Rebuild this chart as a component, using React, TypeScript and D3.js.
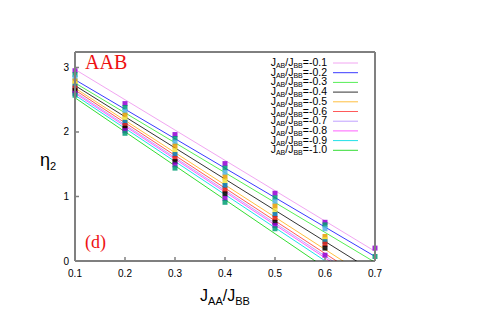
import React from 'react';
import * as d3 from 'd3';

// J_AB/J_BB values (legend order)
const ratios = ['-0.1', '-0.2', '-0.3', '-0.4', '-0.5', '-0.6', '-0.7', '-0.8', '-0.9', '-1.0'];
const xValues = [0.1, 0.2, 0.3, 0.4, 0.5, 0.6, 0.7];

// measured eta_2 points, one array per ratio (null = below range)
const pts1 = [2.95, 2.44, 1.96, 1.51, 1.05, 0.6, 0.2];
const pts2 = [2.89, 2.38, 1.9, 1.44, 0.98, 0.56, 0.07];
const pts3 = [2.84, 2.32, 1.84, 1.37, 0.92, 0.5, null];
const pts4 = [2.79, 2.26, 1.78, 1.3, 0.85, 0.38, null];
const pts5 = [2.75, 2.2, 1.71, 1.24, 0.78, 0.33, null];
const pts6 = [2.71, 2.15, 1.65, 1.17, 0.72, 0.3, null];
const pts7 = [2.68, 2.1, 1.59, 1.1, 0.66, 0.26, null];
const pts8 = [2.64, 2.06, 1.54, 1.04, 0.6, 0.2, null];
const pts9 = [2.6, 2.02, 1.49, 0.97, 0.55, 0.09, null];
const pts10 = [2.57, 1.98, 1.44, 0.91, 0.5, null, null];
const points = [pts1, pts2, pts3, pts4, pts5, pts6, pts7, pts8, pts9, pts10];

// linear fit lines: value at x=0.1 and at x=0.7
const fitStart = [2.97, 2.81, 2.76, 2.72, 2.68, 2.65, 2.62, 2.6, 2.57, 2.53];
const fitEnd = [0.15, 0.07, -0.02, -0.18, -0.32, -0.39, -0.43, -0.46, -0.51, -0.63];

const lineColors = ['#f2a6f2', '#3a3aff', '#55ee55', '#333333', '#ffbf40', '#ff5a5a', '#c0a0ff', '#ff60ff', '#20e0e8', '#33dd33'];
const pointColors = ['#9400d3', '#009e73', '#56b4e9', '#e69f00', '#f0e442', '#0072b2', '#e51e10', '#000000', '#9400d3', '#009e73'];

const xTicks = [0.1, 0.2, 0.3, 0.4, 0.5, 0.6, 0.7];
const yTicks = [0, 1, 2, 3];

const sans = 'Liberation Sans, Arial, sans-serif';
const serif = 'Liberation Serif, Times New Roman, serif';

export default function App() {
  const left = 75, right = 375, top = 52, bottom = 261;
  const x = d3.scaleLinear().domain([0.1, 0.7]).range([left, right]);
  const y = d3.scaleLinear().domain([0, 3.24]).range([bottom, top]);
  const line = d3.line<[number, number]>().x((d) => x(d[0])).y((d) => y(d[1]));

  return (
    <svg width={500} height={314} style={{ position: 'absolute', left: 0, top: 0 }}>
      <defs>
        <clipPath id="plot">
          <rect x={left} y={top} width={right - left} height={bottom - top} />
        </clipPath>
      </defs>

      {/* fit lines */}
      <g clipPath="url(#plot)">
        {ratios.map((r, i) => (
          <path
            key={r}
            d={line([[0.1, fitStart[i]], [0.7, fitEnd[i]]]) || ''}
            stroke={lineColors[i]}
            strokeWidth={1}
            fill="none"
          />
        ))}
      </g>

      {/* data points */}
      <g>
        {points.map((arr, i) =>
          arr.map((v, j) =>
            v == null ? null : (
              <rect
                key={`${i}-${j}`}
                x={x(xValues[j]) - 2.5}
                y={y(v) - 2.5}
                width={5}
                height={5}
                fill={pointColors[i]}
                opacity={0.85}
              />
            )
          )
        )}
      </g>

      {/* frame */}
      <line x1={left} x2={right} y1={top} y2={top} stroke="#000" strokeWidth={1} />
      <line x1={left} x2={right} y1={bottom} y2={bottom} stroke="#000" strokeWidth={1.2} />
      <line x1={left} x2={left} y1={top} y2={bottom} stroke="#808080" strokeWidth={2} />
      <line x1={right} x2={right} y1={top} y2={bottom} stroke="#808080" strokeWidth={2} />

      {/* ticks */}
      {xTicks.map((t) => (
        <g key={t}>
          <line x1={x(t)} x2={x(t)} y1={bottom} y2={bottom - 4} stroke="#808080" strokeWidth={1.5} />
          <text x={x(t)} y={277} textAnchor="middle" fontFamily={sans} fontSize={10}>
            {t.toFixed(1)}
          </text>
        </g>
      ))}
      {yTicks.map((t) => (
        <g key={t}>
          <line x1={left} x2={left + 4} y1={y(t)} y2={y(t)} stroke="#808080" strokeWidth={1.5} />
          <text x={69} y={y(t) + 3.5} textAnchor="end" fontFamily={sans} fontSize={10}>
            {t}
          </text>
        </g>
      ))}

      {/* axis labels */}
      <text x={40} y={166} fontFamily={sans} fontSize={18}>
        η<tspan fontSize={11} dy={4}>2</tspan>
      </text>
      <text x={225} y={301} textAnchor="middle" fontFamily={sans} fontSize={16}>
        J<tspan fontSize={11} dy={4}>AA</tspan>
        <tspan dy={-4}>/J</tspan>
        <tspan fontSize={11} dy={4}>BB</tspan>
      </text>

      {/* annotations */}
      <text x={85} y={69} fontFamily={serif} fontSize={20} fill="#ee1111">AAB</text>
      <text x={85} y={248} fontFamily={serif} fontSize={18} fill="#ee1111">(d)</text>

      {/* legend */}
      {ratios.map((r, i) => {
        const ly = 63 + i * 9.7;
        return (
          <g key={r}>
            <text x={327} y={ly + 3} textAnchor="end" fontFamily={sans} fontSize={10.5}>
              J<tspan fontSize={7} dy={2}>AB</tspan>
              <tspan dy={-2}>/J</tspan>
              <tspan fontSize={7} dy={2}>BB</tspan>
              <tspan dy={-2}>={r}</tspan>
            </text>
            <line x1={333} x2={358} y1={ly} y2={ly} stroke={lineColors[i]} strokeWidth={1} />
          </g>
        );
      })}
    </svg>
  );
}
